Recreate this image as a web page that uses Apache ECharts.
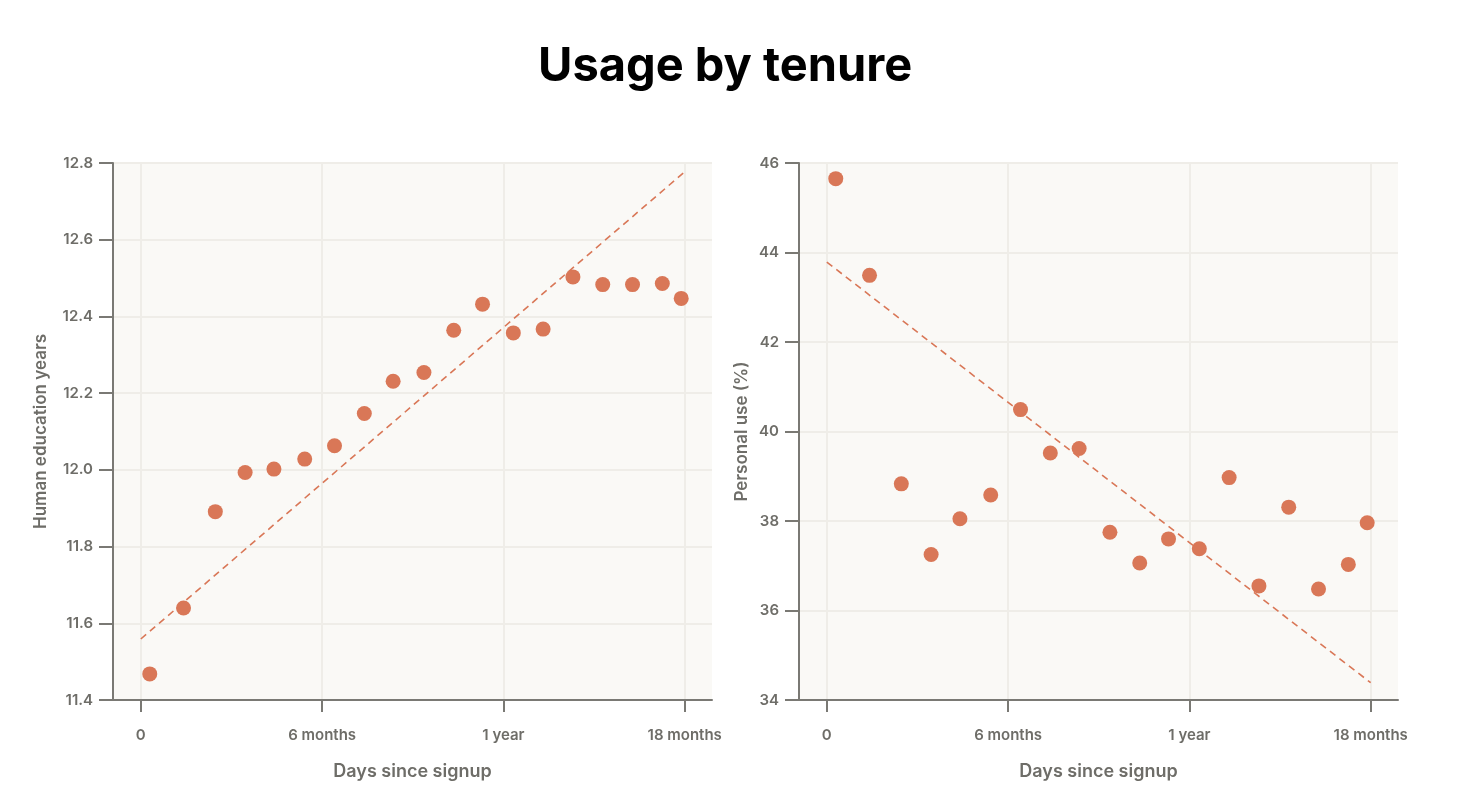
<!DOCTYPE html>
<html>
<head>
<meta charset="utf-8">
<script src="https://cdn.jsdelivr.net/npm/echarts@6/dist/echarts.min.js"></script>
<style>
html,body{margin:0;padding:0;background:#fff;}
#chart{width:1480px;height:812px;}
</style>
</head>
<body>
<div id="chart"></div>
<script>
// Days since signup for each tenure bin (shared by both panels)
const days = [9, 43, 75, 105, 134, 165, 195, 225, 254, 285, 315, 344, 375, 405, 435, 465, 495, 525, 544];
// Left panel: human education years
const educationYears = [11.468, 11.640, 11.891, 11.993, 12.002, 12.028, 12.063, 12.147, 12.231, 12.254, 12.364, 12.432, 12.357, 12.367, 12.503, 12.483, 12.483, 12.486, 12.447];
// Right panel: personal use (%)
const personalUse = [45.65, 43.49, 38.83, 37.25, 38.05, 38.58, 40.49, 39.52, 39.62, 37.75, 37.06, 37.60, 37.38, 38.97, 36.55, 38.31, 36.48, 37.03, 37.96];
// Linear trend endpoints [day, value]
const educationTrend = [[0, 11.559], [547.5, 12.777]];
const personalTrend = [[0, 43.785], [547.5, 34.386]];
// X tick positions (days) and their labels
const xTickValues = [0, 182.5, 365, 547.5];
const xTickLabels = ['0', '6 months', '1 year', '18 months'];

const ORANGE = '#d97757';
const AXIS = '#7a7974';
const TEXT = '#6e6d68';
const GRIDLINE = '#efede8';
const FONT = 'Inter, "Noto Sans", sans-serif';

const chart = echarts.init(document.getElementById('chart'));

function xAxisFor(gridIndex) {
  return {
    type: 'value', gridIndex: gridIndex, min: -28, max: 575,
    name: 'Days since signup', nameLocation: 'middle', nameGap: 63,
    nameTextStyle: {color: TEXT, fontSize: 18, fontWeight: 600, fontFamily: FONT},
    axisLine: {show: true, onZero: false, lineStyle: {color: AXIS, width: 2}},
    axisTick: {show: true, length: 12, customValues: xTickValues, lineStyle: {color: AXIS, width: 2}},
    axisLabel: {
      customValues: xTickValues, margin: 28, color: TEXT, fontSize: 15, fontWeight: 600, fontFamily: FONT,
      formatter: function (v) { const i = xTickValues.indexOf(v); return i >= 0 ? xTickLabels[i] : ''; }
    },
    splitLine: {show: true, lineStyle: {color: GRIDLINE, width: 2}}
  };
}

function yAxisFor(gridIndex, name, min, max, interval, digits, gap) {
  return {
    type: 'value', gridIndex: gridIndex, min: min, max: max, interval: interval,
    name: name, nameLocation: 'middle', nameGap: gap,
    nameTextStyle: {color: TEXT, fontSize: 17, fontWeight: 600, fontFamily: FONT},
    axisLine: {show: true, onZero: false, lineStyle: {color: AXIS, width: 2}},
    axisTick: {show: true, length: 14, lineStyle: {color: AXIS, width: 2}},
    axisLabel: {
      margin: 20, color: TEXT, fontSize: 15, fontWeight: 600, fontFamily: FONT,
      formatter: function (v) { return v.toFixed(digits); }
    },
    splitLine: {show: true, lineStyle: {color: GRIDLINE, width: 2}}
  };
}

const option = {
  animation: false,
  backgroundColor: '#ffffff',
  title: {
    text: 'Usage by tenure', left: 538, top: 43, padding: 0,
    textStyle: {color: '#000', fontSize: 47, fontWeight: 700, fontFamily: FONT}
  },
  grid: [
    {left: 113, top: 163, width: 599, height: 537, show: true, backgroundColor: '#faf9f6', borderWidth: 0, containLabel: false},
    {left: 799, top: 163, width: 599, height: 537, show: true, backgroundColor: '#faf9f6', borderWidth: 0, containLabel: false}
  ],
  xAxis: [xAxisFor(0), xAxisFor(1)],
  yAxis: [
    yAxisFor(0, 'Human education years', 11.4, 12.8, 0.2, 1, 64),
    yAxisFor(1, 'Personal use (%)', 34, 46, 2, 0, 49)
  ],
  series: [
    {type: 'line', xAxisIndex: 0, yAxisIndex: 0, data: educationTrend, symbol: 'none', silent: true,
     lineStyle: {color: ORANGE, width: 1.6, type: [7, 5]}, z: 2},
    {type: 'scatter', xAxisIndex: 0, yAxisIndex: 0, data: days.map((d, i) => [d, educationYears[i]]),
     symbolSize: 15, itemStyle: {color: ORANGE, opacity: 1}, z: 3},
    {type: 'line', xAxisIndex: 1, yAxisIndex: 1, data: personalTrend, symbol: 'none', silent: true,
     lineStyle: {color: ORANGE, width: 1.6, type: [7, 5]}, z: 2},
    {type: 'scatter', xAxisIndex: 1, yAxisIndex: 1, data: days.map((d, i) => [d, personalUse[i]]),
     symbolSize: 15, itemStyle: {color: ORANGE, opacity: 1}, z: 3}
  ]
};
chart.setOption(option);
</script>
</body>
</html>
